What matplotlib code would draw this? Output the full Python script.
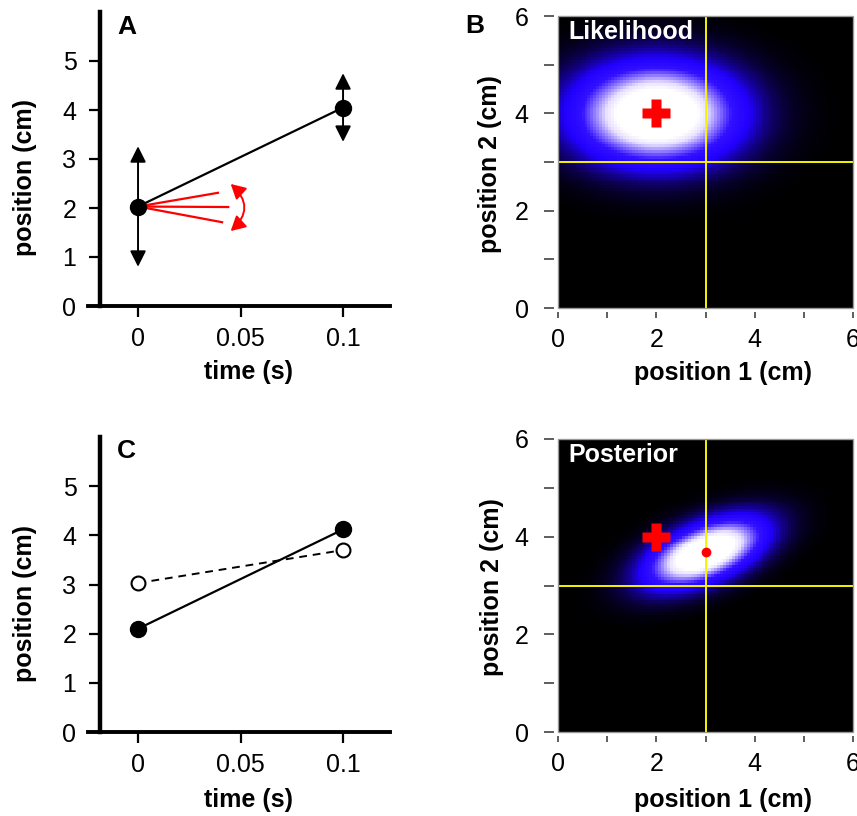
import numpy as np
import matplotlib
matplotlib.use("Agg")
import matplotlib.pyplot as plt
from matplotlib.colors import LinearSegmentedColormap
from matplotlib.patches import Rectangle, FancyArrowPatch

plt.rcParams['font.family'] = ['Liberation Sans', 'DejaVu Sans']

W, H = 857, 816

# time course (s) and positions (cm)
times = [0.0, 0.1]
meas_A = [2.03, 4.05]
arrow_spread = [1.23, 0.70]          # half-length of the uncertainty arrows
fan_x = [0.039, 0.044, 0.041]        # ends of the red candidate lines
fan_y = [2.31, 2.02, 1.71]
swing_x = [0.0452, 0.0452]           # curved red arrow (bottom, top)
swing_y = [1.53, 2.49]

meas_C = [2.10, 4.12]
est_C = [3.03, 3.70]

# 2D distributions over (position 1, position 2)
lik_mean = [2.0, 4.0]
lik_sigma = [1.10, 0.68]
lik_angle = 0
post_mean = [3.0, 3.68]
post_sigma = [0.83, 0.37]
post_angle = 22
true_pos = [3.0, 3.0]                # yellow cross-hair

time_ticks = [0, 0.05, 0.1]
time_ticklabels = ['0', '0.05', '0.1']
pos_ticks = [0, 1, 2, 3, 4, 5]

FS = 18


def px_axes(fig, l, t, r, b):
    return fig.add_axes([l / W, 1 - b / H, (r - l) / W, (b - t) / H])


def ftext(fig, x, y, s, **kw):
    fig.text(x / W, 1 - y / H, s, **kw)


def gauss2d(mean, sig, angle_deg, n=100):
    g = np.linspace(0, 6, n)
    X, Y = np.meshgrid(g, g)
    th = np.deg2rad(angle_deg)
    dx, dy = X - mean[0], Y - mean[1]
    u = dx * np.cos(th) + dy * np.sin(th)
    v = -dx * np.sin(th) + dy * np.cos(th)
    return np.exp(-0.5 * ((u / sig[0]) ** 2 + (v / sig[1]) ** 2))


def style_time_axes(ax):
    ax.set_xlim(-0.0244, 0.1229)
    ax.set_ylim(0, 6)
    ax.spines['top'].set_visible(False)
    ax.spines['right'].set_visible(False)
    ax.spines['left'].set_position(('data', -0.0185))
    ax.spines['left'].set_linewidth(3.2)
    ax.spines['bottom'].set_linewidth(2.8)
    ax.set_xticks(time_ticks)
    ax.set_xticklabels(time_ticklabels)
    ax.set_yticks(pos_ticks)
    ax.tick_params(axis='both', length=8, width=1.6, labelsize=FS)
    ax.tick_params(axis='y', pad=9)
    ax.tick_params(axis='x', pad=7)
    ax.patch.set_visible(False)


cmap = LinearSegmentedColormap.from_list(
    'blk_blue_white',
    [(0, 'black'), (0.08, '#0a0040'), (0.3, '#2200ff'), (0.5, '#3311ff'),
     (0.85, '#e8e0ff'), (1, 'white')])


def heat_axes(ax, field, name):
    ax.imshow(field, extent=[0, 6, 0, 6], origin='lower', cmap=cmap,
              vmin=0, vmax=0.75, aspect='auto', interpolation='nearest')
    ax.axvline(true_pos[0], color='#f5f500', lw=1.4)
    ax.axhline(true_pos[1], color='#f5f500', lw=1.4)
    ax.set_xlim(0, 6)
    ax.set_ylim(0, 6)
    ax.set_xticks([0, 2, 4, 6])
    ax.set_xticks([1, 3, 5], minor=True)
    ax.set_yticks([0, 2, 4, 6])
    ax.set_yticks([1, 3, 5], minor=True)
    for s in ['top', 'right']:
        ax.spines[s].set_visible(False)
    for s in ['left', 'bottom']:
        ax.spines[s].set_position(('outward', 3))
        ax.spines[s].set_visible(False)
    ax.tick_params(axis='y', which='both', length=7, width=1.1,
                   color='#333333', pad=11, labelsize=FS)
    ax.tick_params(axis='x', which='both', length=4.5, width=1.1,
                   color='#333333', pad=7, labelsize=FS)
    ax.add_patch(Rectangle((0, 0), 1, 1, transform=ax.transAxes, fill=False,
                           edgecolor='#999999', lw=1.0, clip_on=False, zorder=5))
    ax.text(0.034, 0.985, name, transform=ax.transAxes, color='white',
            fontsize=FS, fontweight='bold', ha='left', va='top')
    ax.plot(lik_mean[0], lik_mean[1], marker='P', ms=20, color='red',
            mec='none', zorder=6)


fig = plt.figure(figsize=(W / 100, H / 100), dpi=100)

# A: measured positions with their uncertainty
axA = px_axes(fig, 88, 12, 390, 306)
style_time_axes(axA)
axA.plot(times, meas_A, color='black', lw=1.6, zorder=3)
for t, y, d in zip(times, meas_A, arrow_spread):
    for end in (y + d, y - d):
        axA.annotate('', xy=(t, end), xytext=(t, y),
                     arrowprops=dict(arrowstyle='-|>,head_length=0.6,head_width=0.3',
                                     color='black', lw=1.4, mutation_scale=16,
                                     shrinkA=0, shrinkB=0), zorder=2)
for fx, fy in zip(fan_x, fan_y):
    axA.plot([times[0], fx], [meas_A[0], fy], color='red', lw=1.6, zorder=2)
axA.add_patch(FancyArrowPatch((swing_x[0], swing_y[0]), (swing_x[1], swing_y[1]),
                              connectionstyle='arc3,rad=0.55',
                              arrowstyle='<|-|>,head_length=0.55,head_width=0.3',
                              mutation_scale=16, color='red', lw=1.4,
                              shrinkA=0, shrinkB=0))
axA.plot(times, meas_A, 'o', color='black', ms=11.5, zorder=4)

# C: measured vs estimated positions
axC = px_axes(fig, 88, 437, 390, 732)
style_time_axes(axC)
axC.plot(times, meas_C, color='black', lw=1.6, zorder=3)
axC.plot(times, est_C, color='black', lw=1.4, ls=(0, (4, 3)), zorder=3)
axC.plot(times, meas_C, 'o', color='black', ms=11.5, zorder=4)
axC.plot(times, est_C, 'o', mfc='white', mec='black', mew=1.5, ms=10, zorder=4)

# B: likelihood
axB = px_axes(fig, 558, 16, 853, 308)
heat_axes(axB, gauss2d(lik_mean, lik_sigma, lik_angle), 'Likelihood')

# D: posterior
axD = px_axes(fig, 558, 439, 853, 732)
heat_axes(axD, gauss2d(post_mean, post_sigma, post_angle), 'Posterior')
axD.plot(post_mean[0], post_mean[1], 'o', color='red', ms=7, mec='none', zorder=6)

# panel letters and axis labels
ftext(fig, 117, 34, 'A', fontsize=FS + 1, fontweight='bold', va='baseline')
ftext(fig, 465, 33, 'B', fontsize=FS + 1, fontweight='bold', va='baseline')
ftext(fig, 117, 458, 'C', fontsize=FS + 1, fontweight='bold', va='baseline')

lab = dict(fontsize=FS, fontweight='bold', ha='center', va='center')
ftext(fig, 25, 178, 'position (cm)', rotation=90, **lab)
ftext(fig, 249, 372, 'time (s)', **lab)
ftext(fig, 25, 604, 'position (cm)', rotation=90, **lab)
ftext(fig, 249, 800, 'time (s)', **lab)
ftext(fig, 490, 164, 'position 2 (cm)', rotation=90, **lab)
ftext(fig, 723, 373, 'position 1 (cm)', **lab)
ftext(fig, 492, 587, 'position 2 (cm)', rotation=90, **lab)
ftext(fig, 723, 800, 'position 1 (cm)', **lab)

fig.savefig('out.png', dpi=100)
